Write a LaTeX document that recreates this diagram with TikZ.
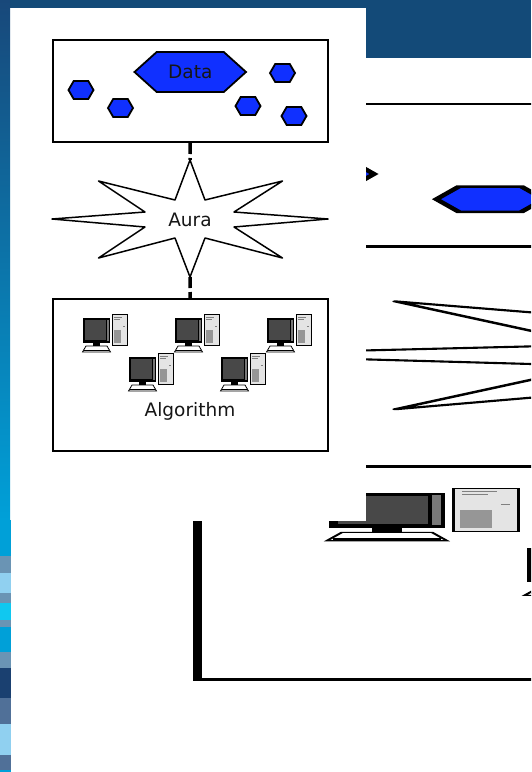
\documentclass[tikz,border=0pt]{standalone}
\usepackage{fontspec}
\setmainfont{DejaVu Sans}
\usetikzlibrary{shapes.symbols}

\definecolor{hexblue}{RGB}{16,48,255}
\definecolor{slateblue}{RGB}{19,74,120}
\definecolor{inkblack}{RGB}{22,22,22}
\definecolor{screengray}{RGB}{72,72,72}
\definecolor{bezelgray}{RGB}{120,120,120}
\definecolor{towergray}{RGB}{228,228,228}
\definecolor{midgray}{RGB}{150,150,150}
\definecolor{stripcyan}{RGB}{0,160,216}
\definecolor{striptop}{RGB}{24,72,122}
\definecolor{stripslate}{RGB}{106,148,180}
\definecolor{stripsky}{RGB}{144,208,240}
\definecolor{stripbright}{RGB}{16,200,240}
\definecolor{stripnavy}{RGB}{26,64,112}
\definecolor{stripsteel}{RGB}{80,112,152}

\tikzset{
  frame/.style={draw=black, line width=2pt, fill=white, inner sep=0pt},
  hexnode/.style={shape=signal, signal to=west and east, draw=black,
    line width=1.8pt, fill=hexblue, inner sep=0pt},
  smallhex/.style={hexnode, minimum width=25pt, minimum height=18pt,
    signal pointer angle=120},
  link/.style={line width=3.5pt, dash pattern=on 11pt off 4pt},
  txt/.style={font=\fontsize{18.5pt}{20pt}\selectfont, text=inkblack, inner sep=0pt},
  pc/.pic={
    % monitor
    \fill[black] (1,4) rectangle (28,28.5);
    \fill[screengray] (3,6) rectangle (24,26);
    \fill[bezelgray] (25,5.5) rectangle (27,27);
    \fill[black] (11,28.5) rectangle (18,31.5);
    % keyboard base
    \filldraw[fill=white, draw=black, line width=0.8pt]
      (0.5,38) -- (28.5,38) -- (25,32) -- (4,32) -- cycle;
    \draw[black, line width=1.2pt] (2,36.6) -- (27,36.6);
    % tower
    \filldraw[fill=towergray, draw=black, line width=0.7pt] (30,0.5) rectangle (45,31);
    \fill[midgray] (31.5,16) rectangle (39,29);
    \draw[line width=0.5pt, gray] (32,3) -- (40,3) (32,5) -- (38,5) (41,12) -- (43,12);
  }
}

% Captions are printed only in the front copy
\newcommand\flowcaption[1]{#1}

% The whole flow: data pool, aura star, algorithm cluster
\newcommand\flowdiagram[1]{%
  \node[frame, minimum width=275.5pt, minimum height=102pt] (#1datapool) at (190.25,91) {};
  \node[hexnode, minimum width=111.5pt, minimum height=40pt, signal pointer angle=84,
        txt] (#1datahex) at (190.25,72) {\flowcaption{Data}};
  \node[smallhex] (#1hexa) at (81,90) {};
  \node[smallhex] (#1hexb) at (120.5,108) {};
  \node[smallhex] (#1hexc) at (282.5,73) {};
  \node[smallhex] (#1hexd) at (248,106) {};
  \node[smallhex] (#1hexe) at (294,116) {};
  % eight-pointed star
  \filldraw[fill=white, draw=black, line width=1.5pt, line join=round]
    (190,160) -- (205,200) -- (282.5,181) -- (234,212) -- (328,219) -- (234,227)
    -- (282.5,258) -- (205,238) -- (190,277) -- (175,238) -- (98.5,258) -- (145,227)
    -- (52,219) -- (145,212) -- (98.5,181) -- (175,200) -- cycle;
  \node[txt] (#1aura) at (190,220) {\flowcaption{Aura}};
  \coordinate (#1startop) at (190,160);
  \coordinate (#1starbot) at (190,277);
  \node[frame, minimum width=275.5pt, minimum height=152pt] (#1algo) at (190.25,375) {};
  \pic (#1pca) at (82,314) {pc};
  \pic (#1pcb) at (174,314) {pc};
  \pic (#1pcc) at (266,314) {pc};
  \pic (#1pcd) at (128,353) {pc};
  \pic (#1pce) at (220,353) {pc};
  \node[txt] (#1algotext) at (190,411) {\flowcaption{Algorithm}};
  \draw[link] (#1datapool.south) -- (#1startop);
  \draw[link] (#1starbot) -- (#1algo.north);
}

\begin{document}
\begin{tikzpicture}[x=1pt, y=-1pt]
  \useasboundingbox (0,0) rectangle (531,772);
  % backdrop
  \fill[slateblue] (0,0) rectangle (531,58);
  \fill[white] (10,58) rectangle (531,772);
  % stretched copy behind the panel (its captions lie beyond the right edge)
  \begin{scope}
    \renewcommand\flowcaption[1]{}
    \clip (10,58) rectangle (531,772);
    \begin{scope}[transform canvas={shift={(-28pt,-48pt)}, xscale=4.3, yscale=1.4}]
      \flowdiagram{big}
    \end{scope}
  \end{scope}
  % front panel
  \fill[white] (10,8) rectangle (366,521);
  \flowdiagram{}
  % left edge strip
  \shade[top color=striptop, bottom color=stripcyan] (0,0) rectangle (10,520);
  \foreach \ya/\yb/\col in {520/556/stripcyan, 556/573/stripslate, 573/593/stripsky,
      593/603/stripslate, 603/620/stripbright, 620/627/stripslate, 627/652/stripcyan,
      652/668/stripslate, 668/698/stripnavy, 698/724/stripsteel, 724/755/stripsky,
      755/770/stripsteel, 770/772/stripcyan}
    \fill[\col] (0,\ya) rectangle (11,\yb);
\end{tikzpicture}
\end{document}
